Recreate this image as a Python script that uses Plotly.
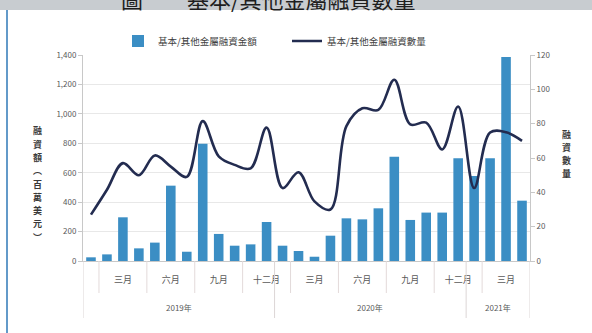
import plotly.graph_objects as go

# Monthly data, Jan 2019 – Apr 2021
months = [f"{y}-{m:02d}" for y, m in
          [(2019, i) for i in range(1, 13)] + [(2020, i) for i in range(1, 13)] + [(2021, i) for i in range(1, 5)]]

amount_musd = [25, 45, 297, 86, 125, 512, 63, 796, 184, 104, 113, 265,
               104, 68, 29, 172, 290, 283, 358, 709, 279, 329, 329, 698,
               578, 698, 1386, 410]

deal_count = [27, 41.5, 57, 50, 61.5, 55, 49, 81.5, 61, 56, 54, 77.7,
              42.5, 51.7, 34.7, 30, 78.6, 89, 88, 105.6, 79.6, 80.6, 65, 90,
              42.5, 74.8, 75, 70]

month_tick_vals = ["2019-03", "2019-06", "2019-09", "2019-12",
                   "2020-03", "2020-06", "2020-09", "2020-12", "2021-03"]
month_tick_text = ["三月", "六月", "九月", "十二月", "三月", "六月", "九月", "十二月", "三月"]

years = ["2019年", "2020年", "2021年"]
year_centers = [5.5, 17.5, 25.5]

left_title = "融資額︵百萬美元︶"
right_title = "融資數量"

FONT = "Noto Sans CJK TC"
BAR = "#3b8ec4"
LINE = "#232c50"
AX = "#c8c8c8"

fig = go.Figure()
fig.add_trace(go.Bar(x=months, y=amount_musd, name="基本/其他金屬融資金額",
                     marker=dict(color=BAR, line=dict(width=0)), yaxis="y"))
fig.add_trace(go.Scatter(x=months, y=deal_count, name="基本/其他金屬融資數量",
                         mode="lines", line=dict(color=LINE, width=2.6, shape="spline", smoothing=1.0),
                         yaxis="y2"))

# geometry helpers (plot area 83..530 px wide, 55..261 px tall)
L, R, T, B = 83, 530, 55, 261
W, H = R - L, B - T
def px(xp): return (xp - L) / W
def py(yp): return (B - yp) / H

shapes = []
# header band
shapes.append(dict(type="rect", xref="paper", yref="paper", x0=px(-5), x1=px(600), y0=py(10), y1=py(-20),
                   fillcolor="#c8ccd0", line=dict(width=0), layer="below"))
# left frame line
shapes.append(dict(type="line", xref="paper", yref="paper", x0=px(7), x1=px(7), y0=py(10), y1=py(340),
                   line=dict(color="#2f78b7", width=1.5)))
# month group separators
for b in [0.5, 3.5, 6.5, 9.5, 12.5, 15.5, 18.5, 21.5, 24.5]:
    shapes.append(dict(type="line", xref="x", yref="paper", x0=b, x1=b, y0=0, y1=py(293),
                       line=dict(color="#e3dada", width=1)))
# year separators
for b in [-0.5, 11.5, 23.5, 27.5]:
    shapes.append(dict(type="line", xref="x", yref="paper", x0=b, x1=b, y0=0, y1=py(318),
                       line=dict(color="#dcd6d6", width=1)))

annotations = [
    dict(text="圖　　基本/其他金屬融資數量", xref="paper", yref="paper", x=px(268), y=py(-2),
         showarrow=False, font=dict(family=FONT, size=22, color="#1e1e1e"), xanchor="center", yanchor="middle"),
]

# vertical (stacked) axis titles
def stacked(text, xc, yc, pitch):
    n = len(text)
    for i, ch in enumerate(text):
        yp = yc + (i - (n - 1) / 2) * pitch
        annotations.append(dict(text=ch, xref="paper", yref="paper", x=px(xc), y=py(yp),
                                showarrow=False, font=dict(family=FONT, size=9, color="#3a3a3a", weight="bold"),
                                xanchor="center", yanchor="middle", borderpad=0, borderwidth=0))

stacked(left_title, 37, 184, 13.3)
stacked(right_title, 566, 154, 13.3)

for yl, xc in zip(years, year_centers):
    annotations.append(dict(text=yl, xref="x", yref="paper", x=xc, y=py(307), showarrow=False,
                            font=dict(family=FONT, size=8, color="#595959"), xanchor="center", yanchor="middle"))

fig.update_layout(
    width=592, height=333,
    margin=dict(l=L, r=592 - R, t=T, b=333 - B, pad=0),
    paper_bgcolor="white", plot_bgcolor="white",
    font=dict(family=FONT, size=8, color="#595959"),
    bargap=0.4,
    showlegend=True,
    legend=dict(orientation="h", x=px(118), y=py(41), xanchor="left", yanchor="middle",
                entrywidth=124, entrywidthmode="pixels", font=dict(family=FONT, size=9.5, color="#404040"),
                bgcolor="rgba(0,0,0,0)", itemwidth=30, tracegroupgap=0),
    xaxis=dict(type="category", categoryorder="array", categoryarray=months,
               range=[-0.5, 27.5], tickmode="array", tickvals=month_tick_vals, ticktext=month_tick_text,
               ticks="", showline=True, linecolor=AX, linewidth=1, showgrid=False,
               tickfont=dict(family=FONT, size=9, color="#595959"), ticklabelstandoff=10),
    yaxis=dict(range=[0, 1400], dtick=200, tickformat=",", showgrid=True, gridcolor="#e8e8e8",
               showline=True, linecolor=AX, ticks="outside", ticklen=4, tickcolor=AX,
               zeroline=False, tickfont=dict(size=8, color="#595959")),
    yaxis2=dict(range=[0, 120], dtick=20, overlaying="y", side="right", showgrid=False,
                showline=True, linecolor=AX, ticks="outside", ticklen=4, tickcolor=AX,
                zeroline=False, tickfont=dict(size=8, color="#595959")),
    shapes=shapes,
    annotations=annotations,
)

fig.write_html("out.html")
